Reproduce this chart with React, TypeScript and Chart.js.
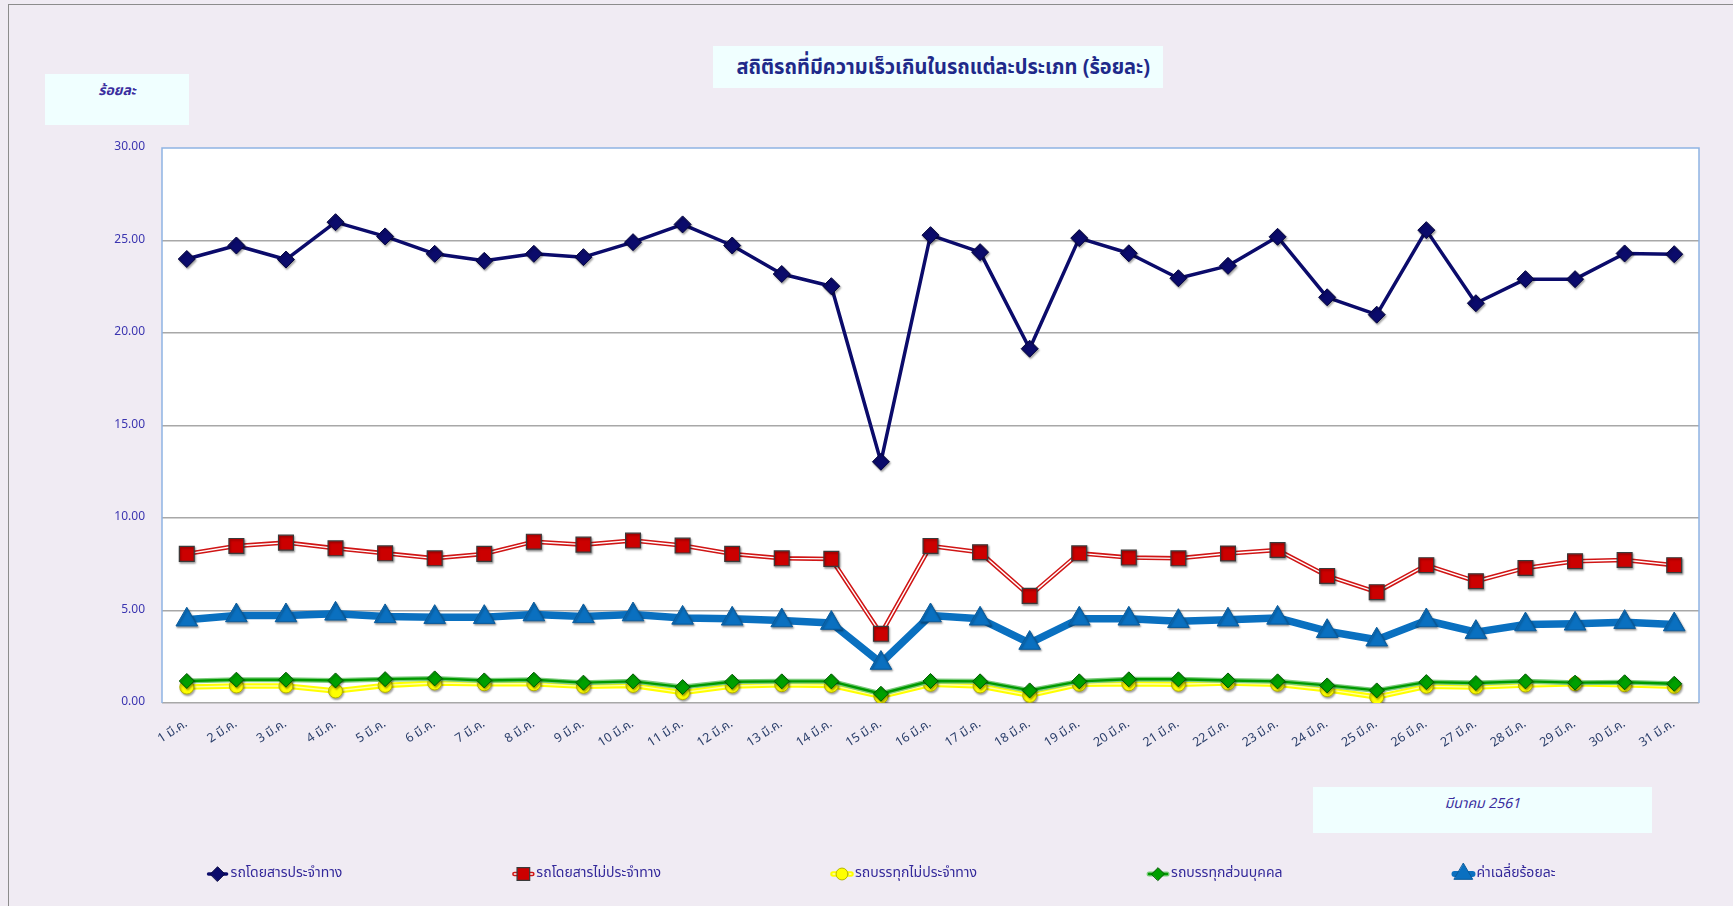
import React, { useEffect, useRef } from "react";
import { Chart, registerables } from "chart.js";
import { drawPoint } from "chart.js/helpers";

Chart.register(...registerables);

const FONT = "Tahoma, 'Noto Sans Thai', 'Noto Sans Thai UI', Loma, Garuda, Kinnari, 'DejaVu Sans', sans-serif";

const days = [
  "1 มี.ค.", "2 มี.ค.", "3 มี.ค.", "4 มี.ค.", "5 มี.ค.", "6 มี.ค.", "7 มี.ค.", "8 มี.ค.",
  "9 มี.ค.", "10 มี.ค.", "11 มี.ค.", "12 มี.ค.", "13 มี.ค.", "14 มี.ค.", "15 มี.ค.", "16 มี.ค.",
  "17 มี.ค.", "18 มี.ค.", "19 มี.ค.", "20 มี.ค.", "21 มี.ค.", "22 มี.ค.", "23 มี.ค.", "24 มี.ค.",
  "25 มี.ค.", "26 มี.ค.", "27 มี.ค.", "28 มี.ค.", "29 มี.ค.", "30 มี.ค.", "31 มี.ค.",
];

const busScheduled = [
  24.0, 24.73, 23.97, 25.99, 25.22, 24.28, 23.9, 24.28, 24.1, 24.91, 25.87, 24.73, 23.19, 22.53, 13.04,
  25.29, 24.37, 19.15, 25.13, 24.31, 22.96, 23.63, 25.2, 21.93, 20.99, 25.56, 21.61, 22.91, 22.91, 24.3, 24.26,
];
const busNonScheduled = [
  8.06, 8.49, 8.67, 8.36, 8.09, 7.82, 8.06, 8.72, 8.56, 8.78, 8.51, 8.06, 7.82, 7.79, 3.74,
  8.49, 8.15, 5.79, 8.09, 7.86, 7.82, 8.08, 8.27, 6.87, 5.99, 7.45, 6.58, 7.3, 7.66, 7.73, 7.45,
];
const truckNonScheduled = [
  0.86, 0.92, 0.92, 0.65, 0.95, 1.08, 1.04, 1.04, 0.9, 0.95, 0.56, 0.92, 0.99, 0.95, 0.36,
  1.01, 0.92, 0.41, 1.01, 1.04, 1.01, 1.08, 1.01, 0.72, 0.32, 0.9, 0.86, 0.97, 1.04, 0.99, 0.9,
];
const truckPrivate = [
  1.19, 1.26, 1.26, 1.22, 1.29, 1.33, 1.22, 1.26, 1.1, 1.17, 0.86, 1.15, 1.17, 1.17, 0.5,
  1.19, 1.17, 0.68, 1.17, 1.28, 1.28, 1.22, 1.17, 0.95, 0.68, 1.13, 1.08, 1.17, 1.1, 1.12, 1.04,
];
const averagePct = [
  4.5, 4.73, 4.73, 4.82, 4.68, 4.64, 4.64, 4.78, 4.68, 4.78, 4.6, 4.55, 4.46, 4.32, 2.16,
  4.73, 4.55, 3.24, 4.55, 4.55, 4.42, 4.5, 4.6, 3.88, 3.42, 4.46, 3.83, 4.24, 4.28, 4.37, 4.24,
];

const seriesLabels = [
  "รถโดยสารประจำทาง",
  "รถโดยสารไม่ประจำทาง",
  "รถบรรทุกไม่ประจำทาง",
  "รถบรรทุกส่วนบุคคล",
  "ค่าเฉลี่ยร้อยละ",
];

const titleText = "สถิติรถที่มีความเร็วเกินในรถแต่ละประเภท (ร้อยละ)";
const yTitleText = "ร้อยละ";
const xTitleText = "มีนาคม 2561";

type Style = {
  line: string;
  lineWidth: number;
  inner?: string;
  innerWidth?: number;
  pointStyle: string;
  radius: number;
  fill: string;
  stroke: string;
  strokeWidth: number;
  z: number;
};

const STYLES: Style[] = [
  { line: "#0B0B6B", lineWidth: 3.5, pointStyle: "rectRot", radius: 8.5, fill: "#0B0B6B", stroke: "#05053F", strokeWidth: 1, z: 40 },
  { line: "#D01515", lineWidth: 4.5, inner: "#FFFFFF", innerWidth: 1.4, pointStyle: "rect", radius: 10.5, fill: "#CC0000", stroke: "#3A3A3A", strokeWidth: 1.2, z: 30 },
  { line: "#FFFF00", lineWidth: 5.5, inner: "#FFFFA8", innerWidth: 1.4, pointStyle: "circle", radius: 7, fill: "#FFFF00", stroke: "#B5B500", strokeWidth: 1, z: 10 },
  { line: "#7CCB7C", lineWidth: 5, inner: "#009A00", innerWidth: 2.4, pointStyle: "rectRot", radius: 7.5, fill: "#00A000", stroke: "#005A00", strokeWidth: 1, z: 0 },
  { line: "#0A70C0", lineWidth: 7.5, pointStyle: "triangle", radius: 12.5, fill: "#0A70C0", stroke: "#0A5A9A", strokeWidth: 1, z: 20 },
];

const SERIES_DATA = [busScheduled, busNonScheduled, truckNonScheduled, truckPrivate, averagePct];

const PLOT = { left: 162, right: 1699, top: 148, bottom: 703 };
const X_AXIS_H = 80;
const W = 1733;
const H = 906;

function buildDatasets() {
  const out: any[] = [];
  SERIES_DATA.forEach((data, i) => {
    const s = STYLES[i];
    out.push({
      label: seriesLabels[i] + "-line",
      data,
      borderColor: s.line,
      borderWidth: s.lineWidth,
      borderJoinStyle: "round",
      borderCapStyle: "round",
      pointRadius: 0,
      pointHoverRadius: 0,
      tension: 0,
      fill: false,
      order: s.z + 2,
    });
    if (s.inner) {
      out.push({
        label: seriesLabels[i] + "-inner",
        data,
        borderColor: s.inner,
        borderWidth: s.innerWidth,
        borderJoinStyle: "round",
        borderCapStyle: "round",
        pointRadius: 0,
        pointHoverRadius: 0,
        tension: 0,
        fill: false,
        order: s.z + 1,
      });
    }
    out.push({
      label: seriesLabels[i],
      data,
      showLine: false,
      pointStyle: s.pointStyle,
      pointRadius: s.radius,
      pointHoverRadius: s.radius,
      pointBackgroundColor: s.fill,
      pointBorderColor: s.stroke,
      pointBorderWidth: s.strokeWidth,
      order: s.z,
      _shadow: true,
    });
  });
  return out;
}

const plotFramePlugin = {
  id: "plotFrame",
  beforeDraw(chart: any) {
    const { ctx, chartArea: a } = chart;
    ctx.save();
    ctx.fillStyle = "#FFFFFF";
    ctx.fillRect(a.left, a.top, a.right - a.left, a.bottom - a.top);
    ctx.restore();
  },
  beforeDatasetsDraw(chart: any) {
    const { ctx, chartArea: a } = chart;
    ctx.save();
    ctx.strokeStyle = "#8EB4E3";
    ctx.lineWidth = 1.5;
    ctx.beginPath();
    ctx.moveTo(a.left, a.bottom);
    ctx.lineTo(a.left, a.top);
    ctx.lineTo(a.right, a.top);
    ctx.lineTo(a.right, a.bottom);
    ctx.stroke();
    ctx.restore();
  },
  beforeDatasetDraw(chart: any, args: any) {
    const ds = chart.data.datasets[args.index];
    if (ds._shadow) {
      const ctx = chart.ctx;
      ctx.save();
      ctx.shadowColor = "rgba(0,0,0,0.35)";
      ctx.shadowBlur = 2;
      ctx.shadowOffsetX = 1;
      ctx.shadowOffsetY = 1.5;
    }
  },
  afterDatasetDraw(chart: any, args: any) {
    const ds = chart.data.datasets[args.index];
    if (ds._shadow) chart.ctx.restore();
  },
};

const legendPlugin = {
  id: "bottomLegend",
  afterDraw(chart: any) {
    const ctx = chart.ctx;
    ctx.save();
    ctx.font = `14px ${FONT}`;
    const lineLen = 22;
    const gap = 170;
    const y = 874;
    const widths = seriesLabels.map((t) => lineLen + 2 + ctx.measureText(t).width);
    const total = widths.reduce((a, b) => a + b, 0) + gap * (seriesLabels.length - 1);
    let x = 881 - total / 2;
    seriesLabels.forEach((t, i) => {
      const s = STYLES[i];
      ctx.lineCap = "round";
      ctx.strokeStyle = s.line;
      ctx.lineWidth = Math.min(s.lineWidth, 6);
      ctx.beginPath();
      ctx.moveTo(x + 2, y);
      ctx.lineTo(x + lineLen - 2, y);
      ctx.stroke();
      if (s.inner) {
        ctx.strokeStyle = s.inner;
        ctx.lineWidth = s.innerWidth;
        ctx.beginPath();
        ctx.moveTo(x + 2, y);
        ctx.lineTo(x + lineLen - 2, y);
        ctx.stroke();
      }
      ctx.fillStyle = s.fill;
      ctx.strokeStyle = s.stroke;
      ctx.lineWidth = s.strokeWidth;
      drawPoint(ctx, { pointStyle: s.pointStyle, radius: s.radius * 0.85, rotation: 0, borderWidth: s.strokeWidth } as any, x + lineLen / 2, y);
      ctx.fillStyle = "#33289A";
      ctx.textAlign = "left";
      ctx.textBaseline = "middle";
      ctx.fillText(t, x + lineLen + 2, y);
      x += widths[i] + gap;
    });
    ctx.restore();
  },
};

function ChartCanvas() {
  const ref = useRef<HTMLCanvasElement | null>(null);
  useEffect(() => {
    if (!ref.current) return;
    const chart = new Chart(ref.current, {
      type: "line",
      data: { labels: days, datasets: buildDatasets() },
      options: {
        responsive: false,
        animation: false,
        devicePixelRatio: 1,
        layout: {
          padding: { left: 0, right: W - PLOT.right, top: PLOT.top, bottom: H - PLOT.bottom - X_AXIS_H },
        },
        plugins: {
          legend: { display: false },
          tooltip: { enabled: false },
          title: { display: false },
        },
        scales: {
          x: {
            type: "category",
            offset: true,
            grid: { display: false, drawTicks: false },
            border: { display: false },
            ticks: {
              color: "#2B3F6B",
              font: { size: 12.5, family: FONT },
              minRotation: 33,
              maxRotation: 33,
              autoSkip: false,
              padding: 14,
            },
            afterFit: (s: any) => {
              s.height = X_AXIS_H;
            },
          },
          y: {
            min: 0,
            max: 30,
            ticks: {
              stepSize: 5,
              color: "#3B35B0",
              font: { size: 12, family: FONT },
              padding: 17,
              callback: (v: any) => Number(v).toFixed(2),
            },
            grid: {
              color: (c: any) => (c.tick && c.tick.value === 30 ? "rgba(0,0,0,0)" : "#A8A8A8"),
              lineWidth: 1.5,
              drawTicks: false,
            },
            border: { display: false },
            afterFit: (s: any) => {
              s.width = PLOT.left;
            },
          },
        },
      } as any,
      plugins: [plotFramePlugin, legendPlugin],
    });
    return () => chart.destroy();
  }, []);
  return <canvas ref={ref} width={W} height={H} style={{ position: "absolute", left: 0, top: 0, width: W, height: H }} />;
}

export default function App() {
  const boxBg = "#F0FFFF";
  return (
    <div
      style={{
        position: "fixed",
        left: 0,
        top: 0,
        width: W,
        height: H,
        background: "#F0EBF3",
        overflow: "hidden",
        fontFamily: FONT,
      }}
    >
      <div
        style={{
          position: "absolute",
          left: 8,
          top: 4,
          width: W,
          height: H,
          borderLeft: "1.5px solid #8C8C8C",
          borderTop: "1.5px solid #8C8C8C",
        }}
      />
      <div
        style={{
          position: "absolute",
          left: 713,
          top: 46,
          width: 450,
          height: 42,
          background: boxBg,
          display: "flex",
          alignItems: "center",
          justifyContent: "center",
          color: "#1F2A8A",
          fontWeight: "bold",
          fontSize: 22,
          whiteSpace: "nowrap",
        }}
      >
        <span style={{ display: "inline-block", transform: "translateX(5px) scaleX(0.91)" }}>{titleText}</span>
      </div>
      <div
        style={{
          position: "absolute",
          left: 45,
          top: 74,
          width: 144,
          height: 51,
          background: boxBg,
          color: "#3A2E9E",
          fontStyle: "italic",
          fontWeight: "bold",
          fontSize: 14,
          textAlign: "center",
          paddingTop: 6,
          boxSizing: "border-box",
        }}
      >
        {yTitleText}
      </div>
      <div
        style={{
          position: "absolute",
          left: 1313,
          top: 787,
          width: 339,
          height: 46,
          background: boxBg,
          color: "#3A2E9E",
          fontStyle: "italic",
          fontSize: 14,
          textAlign: "center",
          paddingTop: 6,
          boxSizing: "border-box",
        }}
      >
        {xTitleText}
      </div>
      <ChartCanvas />
    </div>
  );
}
